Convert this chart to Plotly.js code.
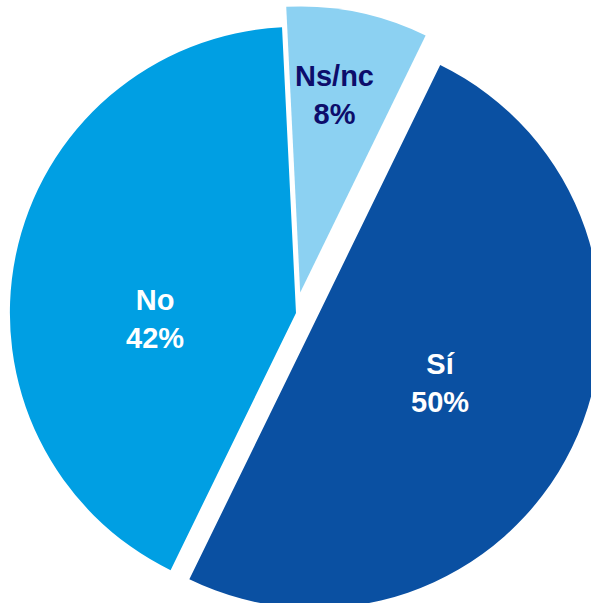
<!DOCTYPE html>
<html>
<head>
<meta charset="utf-8">
<script src="https://cdn.plot.ly/plotly-3.0.1.min.js"></script>
<style>
  html, body { margin: 0; padding: 0; background: #ffffff; overflow: hidden; width: 591px; height: 603px; }
  #chart { position: absolute; left: -11px; top: 6px; width: 614px; height: 614px; }
</style>
</head>
<body>
<div id="chart"></div>
<script>
const categories = ["Sí", "No", "Ns/nc"];
const values = [50, 42, 8];
const sliceColors = ["#0A50A2", "#009FE3", "#8CD1F2"];
const labelColors = ["#FFFFFF", "#FFFFFF", "#0D0D6B"];
const pulls = [0.073, 0, 0.073];

// label placement style (fraction of radius, angular nudge in degrees)
const labelRadius = [0.486, 0.493, 0.70];
const labelNudge = [0, -14, -1.7];

const rotationDeg = 26;
const W = 614, H = 614;

const trace = {
  type: "pie",
  labels: categories,
  values: values,
  sort: false,
  direction: "clockwise",
  rotation: rotationDeg,
  pull: pulls,
  marker: { colors: sliceColors, line: { width: 0 } },
  textinfo: "none",
  hoverinfo: "label+percent",
  showlegend: false
};

// compute label positions from the data (cumulative share -> mid angle)
const total = values.reduce((a, b) => a + b, 0);
const maxPull = Math.max.apply(null, pulls);
const rPaper = 0.5 / (1 + maxPull); // radius in paper units (square plot, zero margins)
const annotations = [];
let cum = 0;
for (let i = 0; i < values.length; i++) {
  const mid = (rotationDeg + 360 * (cum + values[i] / 2) / total) * Math.PI / 180;
  cum += values[i];
  const cx = 0.5 + pulls[i] * rPaper * Math.sin(mid);
  const cy = 0.5 + pulls[i] * rPaper * Math.cos(mid);
  const a = mid + labelNudge[i] * Math.PI / 180;
  annotations.push({
    xref: "paper", yref: "paper",
    x: cx + labelRadius[i] * rPaper * Math.sin(a),
    y: cy + labelRadius[i] * rPaper * Math.cos(a),
    xanchor: "center", yanchor: "middle",
    showarrow: false,
    text: "<b>" + categories[i] + "</b><br><b>" + values[i] + "%</b>",
    font: { family: "Liberation Sans, Arial, sans-serif", size: 29, color: labelColors[i] },
    align: "center"
  });
}

const layout = {
  width: W,
  height: H,
  margin: { l: 0, r: 0, t: 0, b: 0, pad: 0 },
  paper_bgcolor: "#ffffff",
  plot_bgcolor: "#ffffff",
  showlegend: false,
  annotations: annotations
};

Plotly.newPlot("chart", [trace], layout, { displayModeBar: false, staticPlot: true });
</script>
</body>
</html>
